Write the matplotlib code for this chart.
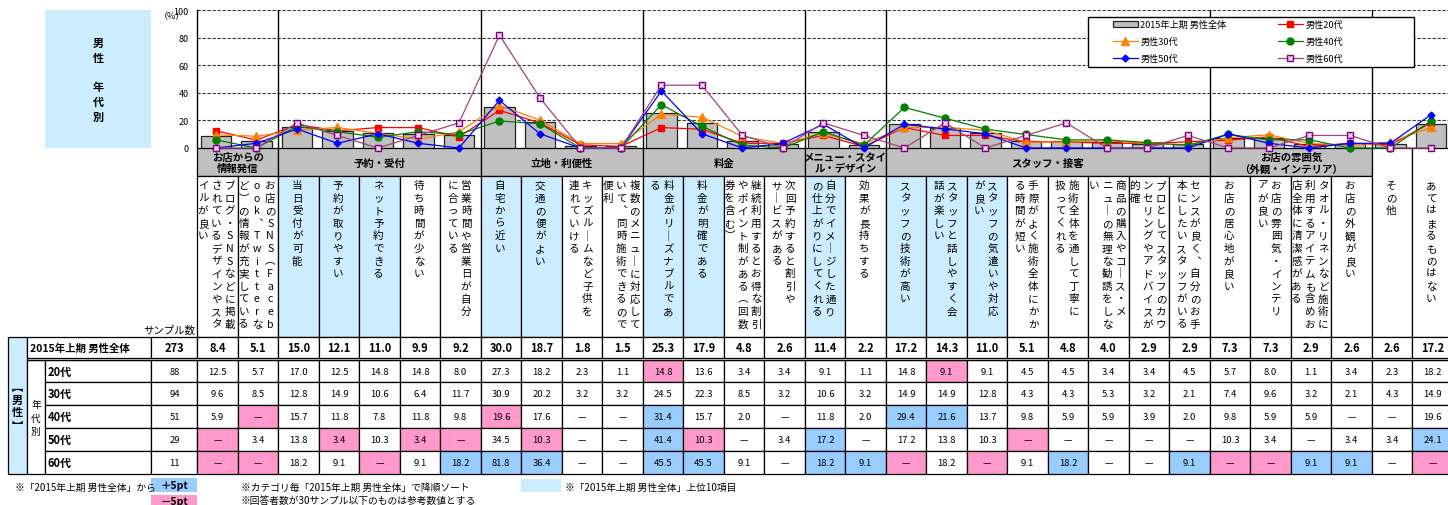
import numpy as np
import matplotlib
matplotlib.use('Agg')
import matplotlib.pyplot as plt
from matplotlib.patches import Rectangle

plt.rcParams['font.family'] = ['Noto Sans CJK JP', 'DejaVu Sans']

# ---- data -------------------------------------------------------------
GROUPS = [
    ("お店からの\n情報発信", 2),
    ("予約・受付", 5),
    ("立地・利便性", 4),
    ("料金", 4),
    ("メニュー・スタイ\nル・デザイン", 2),
    ("スタッフ・接客", 8),
    ("お店の雰囲気\n（外観・インテリア）", 4),
]
# vertical labels, one string per text column (right to left)
ITEM_LABELS = [
    ["ブログ・SNSなどに掲載", "されているデザインやスタ", "イルが良い"],
    ["お店のSNS（Faceb", "ook、Twitterな", "ど）の情報が充実している"],
    ["当日受付が可能"],
    ["予約が取りやすい"],
    ["ネット予約できる"],
    ["待ち時間が少ない"],
    ["営業時間や営業日が自分", "に合っている"],
    ["自宅から近い"],
    ["交通の便がよい"],
    ["キッズルームなど子供を", "連れていける"],
    ["複数のメニューに対応して", "いて、同時施術できるので", "便利"],
    ["料金がリーズナブルであ", "る"],
    ["料金が明確である"],
    ["継続利用するとお得な割引", "やポイント制がある（回数", "券を含む）"],
    ["次回予約すると割引や", "サービスがある"],
    ["自分でイメージした通り", "の仕上がりにしてくれる"],
    ["効果が長持ちする"],
    ["スタッフの技術が高い"],
    ["スタッフと話しやすく会", "話が楽しい"],
    ["スタッフの気遣いや対応", "が良い"],
    ["手際がよく施術全体にかか", "る時間が短い"],
    ["施術全体を通して丁寧に", "扱ってくれる"],
    ["商品の購入やコース・メ", "ニューの無理な勧誘をしな", "い"],
    ["プロとしてスタッフのカウ", "ンセリングやアドバイスが", "的確"],
    ["センスが良く、自分のお手", "本にしたいスタッフがいる"],
    ["お店の居心地が良い"],
    ["お店の雰囲気・インテリ", "アが良い"],
    ["タオル・リネンなど施術に", "利用するアイテムも含めお", "店全体に清潔感がある"],
    ["お店の外観が良い"],
    ["その他"],
    ["あてはまるものはない"],
]
TOP10_COLS = [2, 3, 4, 7, 8, 11, 12, 15, 17, 18, 19]

TOTAL_NAME = "2015年上期 男性全体"
TOTAL_N = 273
ALL_MALE = [8.4, 5.1, 15.0, 12.1, 11.0, 9.9, 9.2, 30.0, 18.7, 1.8, 1.5,
            25.3, 17.9, 4.8, 2.6, 11.4, 2.2, 17.2, 14.3, 11.0, 5.1, 4.8,
            4.0, 2.9, 2.9, 7.3, 7.3, 2.9, 2.6, 2.6, 17.2]

AGE_NAMES = ["20代", "30代", "40代", "50代", "60代"]
SERIES_NAMES = ["男性20代", "男性30代", "男性40代", "男性50代", "男性60代"]
SAMPLE_SIZES = [88, 94, 51, 29, 11]
# 0.0 is shown as "—" in the table
M20 = [12.5, 5.7, 17.0, 12.5, 14.8, 14.8, 8.0, 27.3, 18.2, 2.3, 1.1,
       14.8, 13.6, 3.4, 3.4, 9.1, 1.1, 14.8, 9.1, 9.1, 4.5, 4.5,
       3.4, 3.4, 4.5, 5.7, 8.0, 1.1, 3.4, 2.3, 18.2]
M30 = [9.6, 8.5, 12.8, 14.9, 10.6, 6.4, 11.7, 30.9, 20.2, 3.2, 3.2,
       24.5, 22.3, 8.5, 3.2, 10.6, 3.2, 14.9, 14.9, 12.8, 4.3, 4.3,
       5.3, 3.2, 2.1, 7.4, 9.6, 3.2, 2.1, 4.3, 14.9]
M40 = [5.9, 0.0, 15.7, 11.8, 7.8, 11.8, 9.8, 19.6, 17.6, 0.0, 0.0,
       31.4, 15.7, 2.0, 0.0, 11.8, 2.0, 29.4, 21.6, 13.7, 9.8, 5.9,
       5.9, 3.9, 2.0, 9.8, 5.9, 5.9, 0.0, 0.0, 19.6]
M50 = [0.0, 3.4, 13.8, 3.4, 10.3, 3.4, 0.0, 34.5, 10.3, 0.0, 0.0,
       41.4, 10.3, 0.0, 3.4, 17.2, 0.0, 17.2, 13.8, 10.3, 0.0, 0.0,
       0.0, 0.0, 0.0, 10.3, 3.4, 0.0, 3.4, 3.4, 24.1]
M60 = [0.0, 0.0, 18.2, 9.1, 0.0, 9.1, 18.2, 81.8, 36.4, 0.0, 0.0,
       45.5, 45.5, 9.1, 0.0, 18.2, 9.1, 0.0, 18.2, 0.0, 9.1, 18.2,
       0.0, 0.0, 9.1, 0.0, 0.0, 9.1, 9.1, 0.0, 0.0]
AGE_VALUES = [M20, M30, M40, M50, M60]

# ---- layout (pixels) --------------------------------------------------
W, H = 1448, 506
COL0, COLW = 197.3, 40.5
Y100, Y0 = 11.0, 149.0
HDR_BOT = 177.0
LBL_BOT = 337.7
ROW_EDGES = [337.7, 359.3, 361.3, 383.3, 406.0, 429.0, 452.3, 475.0]

LIGHT_BLUE = '#CCECFF'
PLUS_BLUE = '#99CCFF'
MINUS_PINK = '#FF99CC'
HDR_GRAY = '#C0C0C0'

STYLES = [
    dict(color='#FF0000', marker='s', ms=5, mfc='#FF0000', mec='#FF0000'),
    dict(color='#FF7F00', marker='^', ms=5.5, mfc='#FF7F00', mec='#FF7F00'),
    dict(color='#008000', marker='o', ms=5, mfc='#008000', mec='#008000'),
    dict(color='#0000FF', marker='D', ms=3.5, mfc='#0000FF', mec='#0000FF'),
    dict(color='#A0457F', marker='s', ms=4.5, mfc='#D080D0', mec='#800080'),
]

VERT = {'ー': '｜', '（': '︵', '）': '︶', '、': '︑', '【': '︻', '】': '︼'}


def col_left(i):
    return COL0 + i * COLW


fig = plt.figure(figsize=(W / 100, H / 100), dpi=100)
bg = fig.add_axes([0, 0, 1, 1])
bg.set_xlim(0, W)
bg.set_ylim(H, 0)
bg.axis('off')


def box(x0, y0, x1, y1, fc='white', lw=0.9, ec='black', z=1):
    bg.add_patch(Rectangle((x0, y0), x1 - x0, y1 - y0, facecolor=fc,
                           edgecolor=ec, linewidth=lw, zorder=z))


# left title box
box(45, 11, 151, 149, fc=LIGHT_BLUE, lw=0)
for ch, yy in zip("男性年代別", [43, 58, 87, 102, 117]):
    bg.text(98, yy, ch, ha='center', va='center', fontsize=8, fontweight='bold')

# category header row
start = 0
for name, n in GROUPS:
    box(col_left(start), Y0, col_left(start + n), HDR_BOT, fc=HDR_GRAY)
    bg.text((col_left(start) + col_left(start + n)) / 2, (Y0 + HDR_BOT) / 2 + 0.5, name,
            ha='center', va='center', fontsize=7.5, fontweight='bold', linespacing=1.15)
    start += n

# item label columns
n_items = len(ITEM_LABELS)
for i, lines in enumerate(ITEM_LABELS):
    top = Y0 if i >= start else HDR_BOT
    fc = LIGHT_BLUE if i in TOP10_COLS else 'white'
    box(col_left(i), top, col_left(i + 1), LBL_BOT, fc=fc)
    cx = col_left(i) + COLW * 0.47
    n = len(lines)
    for k, line in enumerate(lines):
        x = cx + (n - 1) / 2 * 13.3 - k * 13.3
        for j, ch in enumerate(line):
            bg.text(x, 186 + j * 12.6, VERT.get(ch, ch), ha='center', va='center',
                    fontsize=7.6, zorder=3)

# table
bg.text(195, 331, "サンプル数", ha='right', va='center', fontsize=7.5)
ov0, ov1 = ROW_EDGES[0], ROW_EDGES[1]
box(8, ov0, 27, ROW_EDGES[-1], fc=LIGHT_BLUE)
for ch, yy in zip("【男性】", [387, 400, 413, 427]):
    bg.text(17.5, yy, VERT.get(ch, ch), ha='center', va='center', fontsize=8,
            fontweight='bold', zorder=3)
box(27, ov0, 151, ov1)
bg.text(30, (ov0 + ov1) / 2, TOTAL_NAME, ha='left', va='center', fontsize=7.5,
        fontweight='bold', zorder=3)
box(151, ov0, COL0, ov1)
bg.text(174, (ov0 + ov1) / 2, str(TOTAL_N), ha='center', va='center', fontsize=8,
        fontweight='bold', zorder=3)
for i, v in enumerate(ALL_MALE):
    box(col_left(i), ov0, col_left(i + 1), ov1)
    bg.text(col_left(i) + COLW / 2, (ov0 + ov1) / 2, f"{v:.1f}", ha='center', va='center',
            fontsize=8, fontweight='bold', zorder=3)
bg.plot([27, W], [ROW_EDGES[2], ROW_EDGES[2]], color='black', lw=0.9, zorder=4)

age_top = ROW_EDGES[2]
box(27, age_top, 45, ROW_EDGES[-1])
for ch, yy in zip("年代別", [405, 419, 432]):
    bg.text(36, yy, ch, ha='center', va='center', fontsize=7, zorder=3)
for r, (name, n, vals) in enumerate(zip(AGE_NAMES, SAMPLE_SIZES, AGE_VALUES)):
    y0, y1 = ROW_EDGES[2 + r], ROW_EDGES[3 + r]
    ym = (y0 + y1) / 2
    box(45, y0, 151, y1)
    bg.text(48, ym, name, ha='left', va='center', fontsize=8, fontweight='bold', zorder=3)
    box(151, y0, COL0, y1)
    bg.text(180, ym, str(n), ha='right', va='center', fontsize=6.8, zorder=3)
    for i, v in enumerate(vals):
        diff = v - ALL_MALE[i]
        fc = PLUS_BLUE if diff >= 5 else (MINUS_PINK if diff <= -5 else 'white')
        box(col_left(i), y0, col_left(i + 1), y1, fc=fc)
        txt = "—" if v == 0 else f"{v:.1f}"
        bg.text(col_left(i) + COLW / 2, ym, txt, ha='center', va='center',
                fontsize=6.8, zorder=3)

# footer notes
bg.text(15, 488, "※「2015年上期 男性全体」から", ha='left', va='center', fontsize=7)
box(151, 479, 197, 493, fc=PLUS_BLUE, lw=0)
bg.text(174, 486, "＋5pt", ha='center', va='center', fontsize=7.5, fontweight='bold')
box(151, 496, 197, 510, fc=MINUS_PINK, lw=0)
bg.text(174, 502, "－5pt", ha='center', va='center', fontsize=7.5, fontweight='bold')
bg.text(241, 488, "※カテゴリ毎「2015年上期 男性全体」で降順ソート", ha='left', va='center', fontsize=7)
bg.text(241, 501, "※回答者数が30サンプル以下のものは参考数値とする", ha='left', va='center', fontsize=7)
box(521, 480, 561, 493, fc=LIGHT_BLUE, lw=0)
bg.text(565, 488, "※「2015年上期 男性全体」上位10項目", ha='left', va='center', fontsize=7)

# ---- chart ------------------------------------------------------------
ax = fig.add_axes([COL0 / W, 1 - Y0 / H, (W - COL0) / W, (Y0 - Y100) / H])
ax.set_facecolor('none')
ax.set_xlim(0, (W - COL0) / COLW)
ax.set_ylim(0, 100)
x = np.arange(n_items) + 0.46

for yv in [20, 40, 60, 80, 100]:
    ax.axhline(yv, color='#333333', lw=0.8, ls=(0, (3, 1.5)), zorder=0)
for b in [2, 7, 11, 15, 17, 25, 29]:
    ax.axvline(b, color='black', lw=1, zorder=0.5)

bars = ax.bar(x, ALL_MALE, width=0.76, color=HDR_GRAY, edgecolor='#222222',
              linewidth=0.9, zorder=1, label=TOTAL_NAME)
handles = {}
for name, vals, st in zip(SERIES_NAMES, AGE_VALUES, STYLES):
    ln, = ax.plot(x, vals, lw=0.9, clip_on=False, zorder=3, label=name, **st)
    handles[name] = ln
xm, = ax.plot(x, M60, ls='none', marker='x', ms=3, mew=0.8, color='white',
              clip_on=False, zorder=3.5)

ax.spines[['top', 'right', 'bottom']].set_visible(False)
ax.spines['left'].set_linewidth(1)
ax.set_xticks([])
ax.set_yticks([0, 20, 40, 60, 80, 100])
ax.tick_params(axis='y', length=0, labelsize=6.5, pad=6)
bg.text(172, 17, "（%）", ha='center', va='center', fontsize=6.5)

# legend: white framed box plus entries
fig.add_artist(Rectangle((1088 / W, 1 - 68 / H), 326 / W, 50 / H, transform=fig.transFigure,
                         facecolor='white', edgecolor='black', linewidth=1, zorder=4))
leg_handles = [bars, handles["男性30代"], handles["男性50代"],
               handles["男性20代"], handles["男性40代"], (handles["男性60代"], xm)]
leg_labels = [TOTAL_NAME, "男性30代", "男性50代", "男性20代", "男性40代", "男性60代"]
leg = fig.legend(leg_handles, leg_labels, ncol=2, loc='upper left',
                 bbox_to_anchor=(1113 / W, 1 - 21 / H), borderaxespad=0, borderpad=0,
                 fontsize=6.6, frameon=False, handlelength=2.7, handletextpad=0.3,
                 labelspacing=0.85, columnspacing=5.6)
leg.set_zorder(5)

fig.savefig('out.png', dpi=100)
